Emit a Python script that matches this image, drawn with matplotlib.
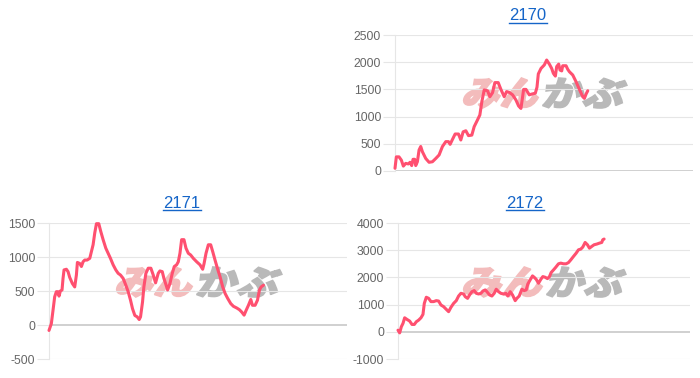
import matplotlib
matplotlib.use('Agg')
import matplotlib.pyplot as plt
from matplotlib.textpath import TextPath
from matplotlib.patches import PathPatch
from matplotlib.font_manager import FontProperties
from matplotlib.transforms import Affine2D
from matplotlib.lines import Line2D

# ---------------- data ----------------
titles = ["2170", "2171", "2172"]

x_2170 = [0, 4, 12, 19, 25, 32, 40, 45, 50, 54, 59, 62, 67, 72, 77, 82, 92, 102, 112, 122,
          132, 142, 152, 160, 165, 172, 180, 190, 197, 204, 212, 220, 230, 237, 247, 254, 260, 267, 277, 284,
          292, 299, 309, 317, 327, 334, 342, 352, 362, 370, 377, 382, 385, 392, 402, 410, 420, 425, 429, 437,
          447, 454, 462, 469, 474, 480, 484, 490, 494, 499, 502, 512, 517, 522, 532, 542, 552, 562, 567, 572, 577]
y_2170 = [50, 260, 260, 200, 90, 140, 130, 160, 100, 215, 215, 100, 170, 385, 450, 355, 230, 160, 170, 230,
          295, 450, 540, 540, 490, 580, 680, 680, 570, 720, 740, 650, 660, 815, 940, 1030, 1275, 1490, 1475, 1365,
          1440, 1625, 1625, 1500, 1365, 1460, 1445, 1400, 1305, 1195, 1150, 1365, 1500, 1500, 1400, 1415, 1430, 1540, 1785, 1885,
          1950, 2040, 1965, 1885, 1795, 1745, 1920, 1965, 1855, 1840, 1935, 1935, 1870, 1825, 1765, 1640, 1500, 1365, 1335, 1415, 1475]
xmax_2170 = 892
yticks_2170 = [0, 500, 1000, 1500, 2000, 2500]

x_2171 = [0, 7, 12, 17, 22, 27, 30, 34, 39, 42, 45, 52, 57, 62, 70, 77, 82, 85, 92, 97,
          102, 107, 114, 122, 127, 132, 137, 142, 149, 155, 162, 170, 177, 184, 192, 200, 207, 214, 222, 230,
          237, 244, 250, 257, 264, 270, 274, 280, 284, 290, 297, 305, 312, 319, 327, 332, 339, 344, 349, 355,
          362, 369, 375, 382, 387, 392, 397, 404, 410, 417, 424, 432, 442, 452, 460, 464, 470, 477, 484, 490,
          497, 504, 512, 520, 527, 535, 544, 552, 562, 570, 577, 584, 590, 597, 604, 609, 617, 624, 630, 635, 642]
y_2171 = [-80, 20, 215, 415, 490, 490, 425, 500, 515, 685, 810, 820, 785, 700, 610, 560, 735, 920, 905, 860,
          930, 955, 955, 980, 1080, 1180, 1355, 1490, 1490, 1375, 1255, 1130, 1055, 980, 885, 810, 760, 735, 685, 585,
          490, 365, 240, 140, 120, 80, 120, 340, 560, 760, 835, 835, 735, 620, 760, 795, 785, 685, 610, 515,
          610, 760, 860, 885, 930, 1055, 1255, 1255, 1130, 1055, 1030, 980, 930, 885, 820, 900, 1055, 1180, 1180, 1080,
          955, 835, 710, 560, 465, 390, 315, 275, 250, 225, 190, 145, 215, 290, 375, 290, 290, 365, 515, 560, 585]
xmax_2171 = 892
yticks_2171 = [-500, 0, 500, 1000, 1500]

x_2172 = [0, 5, 10, 15, 20, 27, 35, 42, 49, 55, 62, 69, 75, 79, 85, 92, 99, 107, 115, 122,
          129, 137, 145, 152, 159, 167, 175, 182, 189, 197, 202, 209, 215, 222, 229, 235, 242, 249, 255, 262,
          267, 275, 282, 289, 295, 302, 309, 317, 324, 330, 337, 344, 352, 357, 364, 372, 379, 385, 390, 397,
          404, 409, 415, 422, 429, 435, 442, 449, 455, 460, 467, 474, 482, 489, 497, 505, 512, 519, 527, 535,
          542, 549, 555, 562, 569, 575, 582, 589, 597, 605, 612, 615, 619]
y_2172 = [60, -40, 185, 310, 515, 455, 395, 270, 270, 370, 430, 515, 640, 1045, 1270, 1230, 1110, 1110, 1145, 1130,
          985, 925, 825, 740, 900, 1045, 1145, 1315, 1415, 1390, 1290, 1230, 1355, 1475, 1515, 1415, 1390, 1415, 1500, 1540,
          1475, 1355, 1315, 1415, 1565, 1475, 1415, 1390, 1415, 1315, 1475, 1355, 1145, 1230, 1315, 1565, 1515, 1540, 1760, 1910,
          2055, 2005, 1930, 1785, 1930, 2030, 2005, 1955, 2030, 2180, 2275, 2375, 2500, 2525, 2500, 2500, 2545, 2645, 2770, 2890,
          3015, 3040, 3115, 3285, 3200, 3075, 3140, 3200, 3225, 3260, 3285, 3385, 3410]
xmax_2172 = 877
yticks_2172 = [-1000, 0, 1000, 2000, 3000, 4000]

# ---------------- layout / style ----------------
W, H = 700, 378
LINE_COLOR = '#ff5070'
GRID = '#e6e6e6'
ZERO = '#c4c4c4'
TICK_COLOR = '#666666'
TITLE_COLOR = '#1565c8'

panels = [
    dict(title=titles[0], x=x_2170, y=y_2170, xmax=xmax_2170, yticks=yticks_2170,
         box=(395, 693, 35, 171), tpos=(528, 16), wm=(462, 542, 628, 78, 108)),
    dict(title=titles[1], x=x_2171, y=y_2171, xmax=xmax_2171, yticks=yticks_2171,
         box=(49, 347, 223, 359), tpos=(182, 203), wm=(115, 196, 283, 267, 297)),
    dict(title=titles[2], x=x_2172, y=y_2172, xmax=xmax_2172, yticks=yticks_2172,
         box=(398, 690, 223, 359), tpos=(525, 203), wm=(462, 546, 627, 267, 297)),
]

fig = plt.figure(figsize=(W / 100, H / 100), dpi=100)
fig.patch.set_facecolor('white')

px = Affine2D().scale(1 / 100.0) + fig.dpi_scale_trans  # pixel -> display
cjk = FontProperties(family='Noto Sans CJK JP', weight='black')


def watermark(text, x0, x1, ytop, ybot, color):
    tp = TextPath((0, 0), text, size=1, prop=cjk)
    ext = tp.get_extents()
    sx = (x1 - x0 - 6) / ext.width
    sy = (ybot - ytop) / ext.height
    tr = (Affine2D().translate(-ext.x0, -ext.y0).scale(sx, sy)
          .skew_deg(12, 0).translate(x0, H - ybot)) + px
    patch = PathPatch(tp, facecolor=color, edgecolor=color, lw=1.2,
                      transform=tr, zorder=-5)
    fig.add_artist(patch)


for p in panels:
    l, r, t, b = p['box']
    ax = fig.add_axes([l / W, 1 - b / H, (r - l) / W, (b - t) / H])
    ax.set_facecolor('none')
    yt = p['yticks']
    ax.set_ylim(yt[0], yt[-1])
    ax.set_xlim(0, p['xmax'])
    ax.set_yticks(yt)
    ax.set_yticklabels([str(v) for v in yt], fontsize=8.8, color=TICK_COLOR,
                       family=['Liberation Sans', 'DejaVu Sans'])
    ax.tick_params(axis='y', length=9, width=0.8, color=GRID, pad=1)
    ax.set_xticks([])
    for v in yt:
        ax.axhline(v, color=(ZERO if v == 0 else GRID), lw=(1.1 if v == 0 else 0.8), zorder=0.5)
    for s in ['top', 'right', 'bottom']:
        ax.spines[s].set_visible(False)
    ax.spines['left'].set_color(GRID)
    ax.spines['left'].set_linewidth(0.8)
    ax.plot(p['x'], p['y'], color=LINE_COLOR, lw=2.2, solid_joinstyle='round',
            solid_capstyle='round', zorder=3, clip_on=False)

    wx0, wxm, wx1, wyt, wyb = p['wm']
    watermark('みん', wx0, wxm, wyt, wyb, '#f3bcbc')
    watermark('かぶ', wxm, wx1, wyt, wyb, '#b9b9b9')

    tx, ty = p['tpos']
    fig.text(tx / W, 1 - ty / H, p['title'], ha='center', va='center', fontsize=12,
             color=TITLE_COLOR, family=['Liberation Sans', 'DejaVu Sans'])

# underline titles
fig.canvas.draw()
renderer = fig.canvas.get_renderer()
for txt in list(fig.texts):
    bb = txt.get_window_extent(renderer)
    yline = bb.y0 + 1
    fig.add_artist(Line2D([bb.x0 / W, bb.x1 / W], [yline / H, yline / H],
                          transform=fig.transFigure, color=TITLE_COLOR, lw=1.0))

fig.savefig('out.png', dpi=100, facecolor='white')
